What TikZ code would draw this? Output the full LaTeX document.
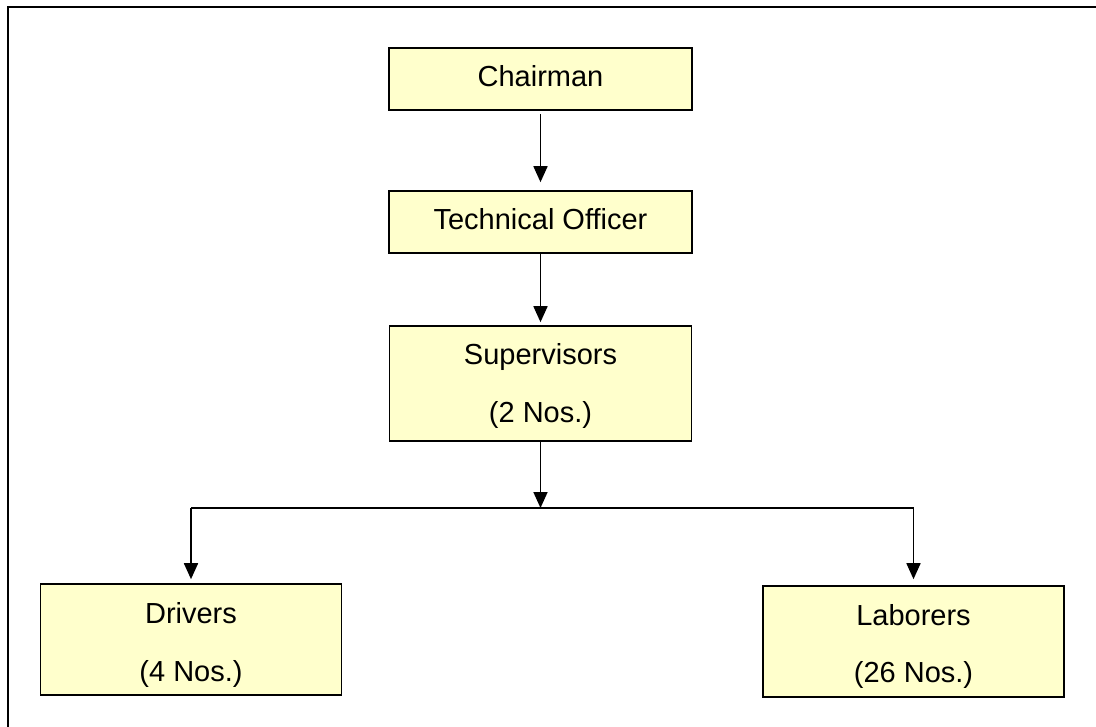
\documentclass[tikz,border=0pt]{standalone}
\usepackage{fontspec}
\setmainfont{Liberation Sans}
\usetikzlibrary{arrows.meta}

\definecolor{boxfill}{HTML}{FFFFCC}

% invisible struts that nudge the text inside a box up or down
\newcommand{\upstrut}[1]{\rule{0pt}{#1}}
\newcommand{\downstrut}[1]{\rule[-#1]{0pt}{0pt}}

\tikzset{
  orgbox/.style={draw=black, line width=1.6pt, fill=boxfill, inner sep=0pt,
    align=center, font=\fontsize{29}{58}\selectfont},
  link/.style={line width=1.7pt},
  linkarrow/.style={line width=1.7pt, -{Triangle[length=16pt,width=14pt]}},
}

\begin{document}
\begin{tikzpicture}[x=1pt,y=-1pt]
  \path[use as bounding box] (0,0) rectangle (1096,727);
  % white page, a little larger than the sheet so no edge is left uncovered
  \fill[white] (-10,-10) rectangle (1110,740);
  % outer frame, running off the page to the right and below
  \draw[line width=2pt] (1110,7) -- (8,7) -- (8,740);

  % boxes
  \node[orgbox, minimum width=303pt, minimum height=62pt] (chair) at (540.5,79)
    {Chairman\downstrut{6pt}};
  \node[orgbox, minimum width=303pt, minimum height=62pt] (tech) at (540.5,222)
    {Technical Officer\downstrut{6pt}};
  \node[orgbox, minimum width=302pt, minimum height=115pt] (sup) at (540.5,383.5)
    {\upstrut{27pt}Supervisors\\(2 Nos.)};
  \node[orgbox, minimum width=301pt, minimum height=111pt] (drv) at (191,639.5)
    {\upstrut{31pt}Drivers\\(4 Nos.)};
  \node[orgbox, minimum width=301pt, minimum height=111pt] (lab) at (913.5,641.5)
    {\upstrut{31pt}Laborers\\(26 Nos.)};

  % branching level
  \coordinate (j) at (540.5,508);

  % connectors
  \draw[linkarrow, shorten <=3pt, shorten >=8pt] (chair.south) -- (tech.north);
  \draw[linkarrow, shorten >=3pt] (tech.south) -- (sup.north);
  \draw[linkarrow] (sup.south) -- (j);
  \draw[link] (j -| drv.north) -- (j -| lab.north);
  \draw[linkarrow, shorten >=4pt] (j -| drv.north) -- (drv.north);
  \draw[linkarrow, shorten >=6pt] (j -| lab.north) -- (lab.north);
\end{tikzpicture}
\end{document}
